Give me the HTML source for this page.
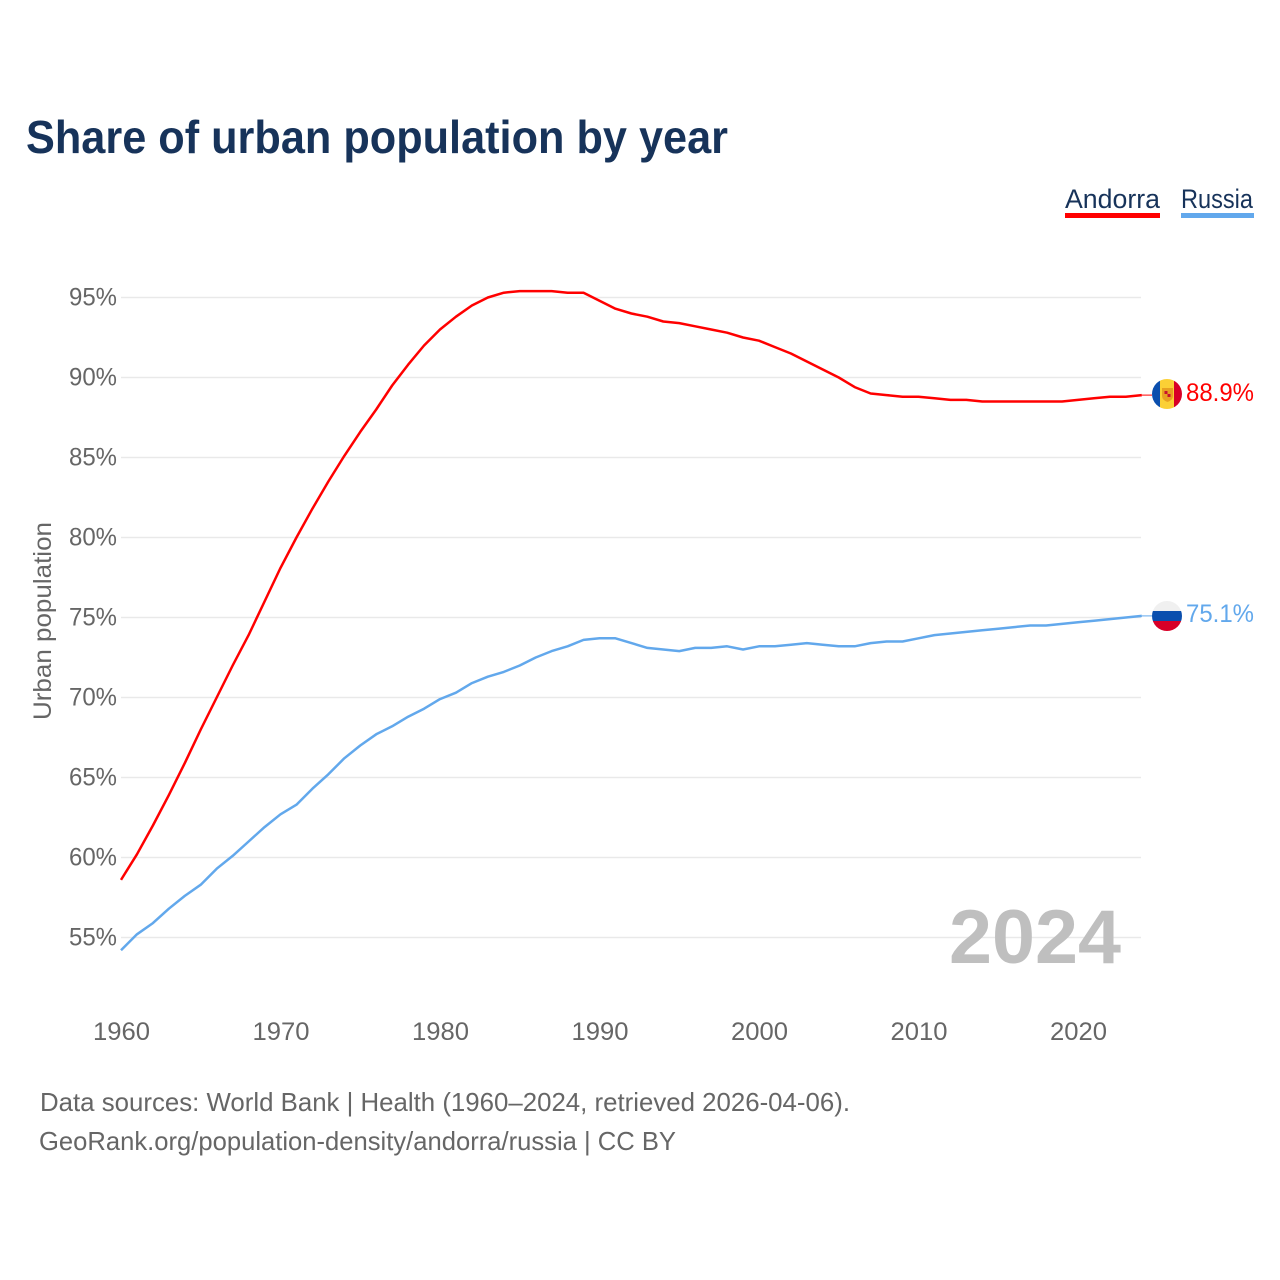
<!DOCTYPE html>
<html lang="en">
<head>
<meta charset="utf-8">
<title>Share of urban population by year</title>
<style>
html,body{margin:0;padding:0;background:#fff;}
#chart{display:block;width:1280px;height:1280px;font-family:"Liberation Sans",sans-serif;}
</style>
</head>
<body>
<svg id="chart" xmlns="http://www.w3.org/2000/svg" width="1280" height="1280" viewBox="0 0 1280 1280">
  <defs>
    <clipPath id="clip-andorra"><circle cx="1167" cy="394" r="15"/></clipPath>
    <clipPath id="clip-russia"><circle cx="1167" cy="616" r="15"/></clipPath>
  </defs>
  <rect width="1280" height="1280" fill="#fff"/>
  <text x="26" y="153" font-size="46" font-weight="700" fill="#17335a" textLength="702" lengthAdjust="spacingAndGlyphs">Share of urban population by year</text>

  <g>
    <text x="1065" y="208" font-size="27" fill="#17335a" textLength="95" lengthAdjust="spacingAndGlyphs">Andorra</text>
    <rect x="1065" y="213" width="95" height="5" fill="#ff0000"/>
  </g>
  <g>
    <text x="1181" y="208" font-size="27" fill="#17335a" textLength="72" lengthAdjust="spacingAndGlyphs">Russia</text>
    <rect x="1181" y="213" width="73" height="5" fill="#62a8ec"/>
  </g>

  <g id="grid"></g>
  <g id="y-axis"></g>
  <g id="x-axis"></g>
  <text transform="translate(51,621) rotate(-90)" text-anchor="middle" font-size="25" fill="#666" textLength="198" lengthAdjust="spacingAndGlyphs">Urban population</text>
  <text x="949" y="963" font-size="76" font-weight="700" fill="#bfbfbf" textLength="172" lengthAdjust="spacingAndGlyphs">2024</text>
  <g id="series"></g>

  <g clip-path="url(#clip-andorra)">
    <rect x="1152" y="379" width="8" height="30" fill="#0b4fae"/>
    <rect x="1160" y="379" width="14" height="30" fill="#fbd035"/>
    <rect x="1174" y="379" width="8" height="30" fill="#d80027"/>
    <path d="M1162 388h11v8q0 4-5.500 6q-5.500-2-5.500-6z" fill="#e8a020"/>
    <rect x="1164.500" y="391" width="3" height="3" fill="#c8102e"/>
    <rect x="1167.500" y="394" width="3" height="3" fill="#c8102e"/>
  </g>
  <g clip-path="url(#clip-russia)">
    <rect x="1152" y="601" width="30" height="10" fill="#f0f0f0"/>
    <rect x="1152" y="611" width="30" height="10" fill="#0b4fae"/>
    <rect x="1152" y="621" width="30" height="10" fill="#d80027"/>
  </g>
  <text id="end-label-andorra" x="1186" y="401" font-size="25" fill="#ff0000" textLength="68" lengthAdjust="spacingAndGlyphs"></text>
  <text id="end-label-russia" x="1186" y="622" font-size="25" fill="#62a8ec" textLength="68" lengthAdjust="spacingAndGlyphs"></text>

  <text x="40" y="1111" font-size="26" fill="#666" textLength="810" lengthAdjust="spacingAndGlyphs">Data sources: World Bank | Health (1960–2024, retrieved 2026-04-06).</text>
  <text x="39" y="1150" font-size="26" fill="#666" textLength="637" lengthAdjust="spacingAndGlyphs">GeoRank.org/population-density/andorra/russia | CC BY</text>
</svg>
<script>
const startYear = 1960;
const andorraValues = [58.6,60.2,62.0,63.9,65.9,68.0,70.0,72.0,73.9,76.0,78.1,80.0,81.8,83.5,85.1,86.6,88.0,89.5,90.8,92.0,93.0,93.8,94.5,95.0,95.3,95.4,95.4,95.4,95.3,95.3,94.8,94.3,94.0,93.8,93.5,93.4,93.2,93.0,92.8,92.5,92.3,91.9,91.5,91.0,90.5,90.0,89.4,89.0,88.9,88.8,88.8,88.7,88.6,88.6,88.5,88.5,88.5,88.5,88.5,88.5,88.6,88.7,88.8,88.8,88.9];
const russiaValues = [54.2,55.2,55.9,56.8,57.6,58.3,59.3,60.1,61.0,61.9,62.7,63.3,64.3,65.2,66.2,67.0,67.7,68.2,68.8,69.3,69.9,70.3,70.9,71.3,71.6,72.0,72.5,72.9,73.2,73.6,73.7,73.7,73.4,73.1,73.0,72.9,73.1,73.1,73.2,73.0,73.2,73.2,73.3,73.4,73.3,73.2,73.2,73.4,73.5,73.5,73.7,73.9,74.0,74.1,74.2,74.3,74.4,74.5,74.5,74.6,74.7,74.8,74.9,75.0,75.1];
const yTicks = [55,60,65,70,75,80,85,90,95];
const xTicks = [1960,1970,1980,1990,2000,2010,2020];

const NS = 'http://www.w3.org/2000/svg';
function xScale(year){ return 121 + (year - 1960) * 15.95; }
function yScale(v){ return 297.5 + (95 - v) * 16; }
function make(tag, attrs){
  const el = document.createElementNS(NS, tag);
  for (const k in attrs) el.setAttribute(k, attrs[k]);
  return el;
}

const grid = document.getElementById('grid');
const yAxis = document.getElementById('y-axis');
yTicks.forEach(function(t){
  const line = make('line', {x1:121, x2:1141, y1:yScale(t), y2:yScale(t), stroke:'#e9e9e9', 'stroke-width':1.5});
  
  
  grid.appendChild(line);
  const label = make('text', {x:117, y:yScale(t)+8, 'text-anchor':'end', 'font-size':25, fill:'#666', textLength:48, lengthAdjust:'spacingAndGlyphs'});
  
  
  label.textContent = t + '%';
  yAxis.appendChild(label);
});

const xAxis = document.getElementById('x-axis');
xTicks.forEach(function(t){
  const label = make('text', {x:xScale(t)+0.5, y:1040, 'text-anchor':'middle', 'font-size':25, fill:'#666', textLength:57, lengthAdjust:'spacingAndGlyphs'});
  
  
  label.textContent = t;
  xAxis.appendChild(label);
});

function linePath(values){
  return values.map(function(v,i){
    return (i ? 'L' : 'M') + xScale(startYear + i).toFixed(2) + ' ' + yScale(v).toFixed(2);
  }).join('');
}
const seriesGroup = document.getElementById('series');

const andorraLine = make('path', {d:linePath(andorraValues), fill:'none', stroke:'#ff0000', 'stroke-width':2.5, 'stroke-linejoin':'round'});


seriesGroup.appendChild(andorraLine);

const russiaLine = make('path', {d:linePath(russiaValues), fill:'none', stroke:'#62a8ec', 'stroke-width':2.5, 'stroke-linejoin':'round'});


seriesGroup.appendChild(russiaLine);

const lastYear = startYear + andorraValues.length - 1;
const andorraLast = andorraValues[andorraValues.length - 1];
const russiaLast = russiaValues[russiaValues.length - 1];

const andorraConnector = make('line', {x1:xScale(lastYear), x2:1152, y1:yScale(andorraLast), y2:yScale(andorraLast), stroke:'#ff0000', 'stroke-width':1});


seriesGroup.appendChild(andorraConnector);

const russiaConnector = make('line', {x1:xScale(lastYear), x2:1152, y1:yScale(russiaLast), y2:yScale(russiaLast), stroke:'#62a8ec', 'stroke-width':1});


seriesGroup.appendChild(russiaConnector);

document.getElementById('end-label-andorra').textContent = andorraLast.toFixed(1) + '%';
document.getElementById('end-label-russia').textContent = russiaLast.toFixed(1) + '%';
</script>
</body>
</html>
